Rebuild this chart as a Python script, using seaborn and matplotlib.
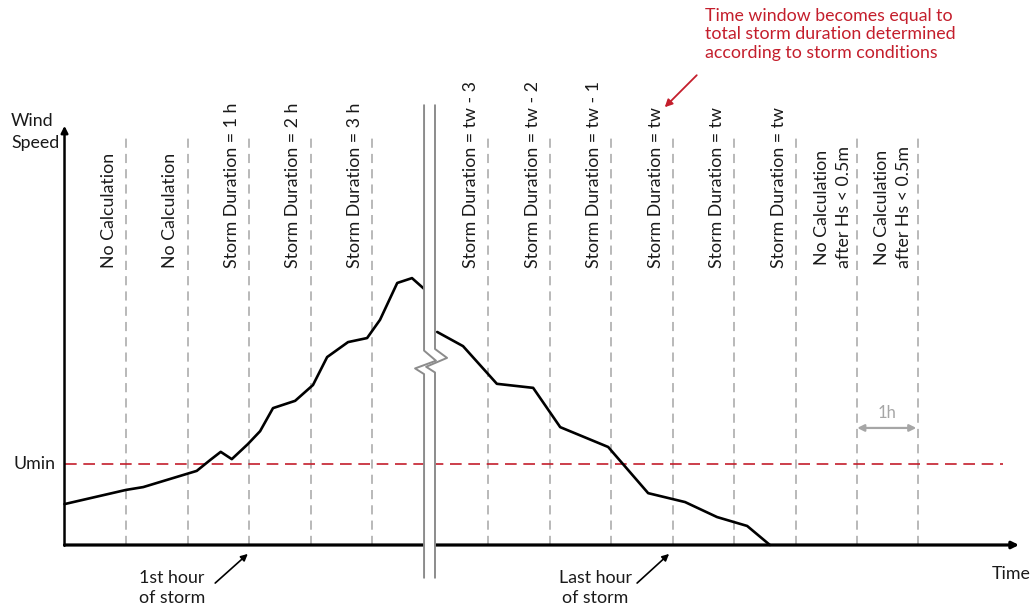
import matplotlib
matplotlib.use("Agg")
import matplotlib.pyplot as plt
import seaborn as sns
import pandas as pd

# wind speed curve, rising part (before the time-axis break)
rise_hours = [0.0, 1.0, 1.28, 2.15, 2.37, 2.54, 2.72, 2.98, 3.18, 3.39, 3.75, 4.04,
              4.27, 4.61, 4.92, 5.13, 5.41, 5.65, 5.85]
rise_speed = [1.01, 1.36, 1.43, 1.83, 2.10, 2.30, 2.12, 2.49, 2.81, 3.38, 3.56, 3.95,
              4.64, 5.01, 5.11, 5.56, 6.47, 6.59, 6.32]
# falling part (after the break)
fall_hours = [6.06, 6.48, 7.03, 7.62, 8.06, 8.84, 9.49, 10.09, 10.61, 11.10, 11.47]
fall_speed = [5.26, 4.91, 3.98, 3.88, 2.91, 2.42, 1.28, 1.06, 0.69, 0.47, 0.0]

umin = 2.0
hour_lines = [1, 2, 3, 4, 5, 6.89, 7.89, 8.89, 9.89, 10.89, 11.89, 12.89, 13.87]
hour_labels = ["No Calculation", "No Calculation",
               "Storm Duration = 1 h", "Storm Duration = 2 h", "Storm Duration = 3 h",
               "Storm Duration = tw - 3", "Storm Duration = tw - 2", "Storm Duration = tw - 1",
               "Storm Duration = tw", "Storm Duration = tw", "Storm Duration = tw",
               "No Calculation\nafter Hs < 0.5m", "No Calculation\nafter Hs < 0.5m"]

# axis break symbol (two gray lines with a zigzag)
brk_left_x = [5.846, 5.846, 6.04, 5.70, 5.846, 5.846]
brk_left_y = [10.86, 4.80, 4.55, 4.36, 4.22, -0.81]
brk_right_x = [6.024, 6.024, 6.22, 5.88, 6.024, 6.024]
brk_right_y = [10.86, 4.84, 4.62, 4.40, 4.26, -0.81]

note = "Time window becomes equal to\ntotal storm duration determined\naccording to storm conditions"

sns.set_theme(style="white")
plt.rcParams["font.family"] = ["Lato", "DejaVu Sans"]

fig = plt.figure(figsize=(10.35, 6.07), dpi=100)
ax = fig.add_axes([0, 0, 1, 1])
ax.set_xlim(-1.049, 15.78)
ax.set_ylim(-1.531, 13.457)
ax.axis("off")

gray = "#a6a6a6"
red = "#c41e2c"
ink = "#1a1a1a"

# vertical dashed hour lines and their labels
ax.vlines(hour_lines, 0, 10.17, colors=gray, linestyles=(0, (6, 4)), lw=1.1, zorder=1)
for xl, lab in zip(hour_lines, hour_labels):
    off = 0.40 if "\n" in lab else 0.28
    ax.text(xl - off, 6.84, lab, rotation=90, ha="center", va="bottom",
            fontsize=12.8, color=ink, linespacing=1.45)

# Umin threshold
ax.plot([0, 15.26], [umin, umin], color=red, lw=1.2, ls=(0, (7, 4)), zorder=1)
ax.text(-0.14, umin, "Umin", ha="right", va="center", fontsize=12.8, color=ink)

# wind speed curve
rise = pd.DataFrame({"hour": rise_hours, "speed": rise_speed})
fall = pd.DataFrame({"hour": fall_hours, "speed": fall_speed})
sns.lineplot(data=rise, x="hour", y="speed", ax=ax, color="black", lw=1.9,
             sort=False, estimator=None, zorder=3)
sns.lineplot(data=fall, x="hour", y="speed", ax=ax, color="black", lw=1.9,
             sort=False, estimator=None, zorder=3)

# axes with arrows
ax.annotate("", xy=(15.52, 0), xytext=(0, 0),
            arrowprops=dict(arrowstyle="-|>", color="black", lw=2.3,
                            mutation_scale=10, shrinkA=0, shrinkB=0), zorder=4)
ax.annotate("", xy=(0, 10.35), xytext=(0, -0.02),
            arrowprops=dict(arrowstyle="-|>", color="black", lw=1.8,
                            mutation_scale=10, shrinkA=0, shrinkB=0), zorder=4)
ax.text(-0.87, 10.2, "Wind\nSpeed", ha="left", va="center", fontsize=12.8,
        color=ink, linespacing=1.4)
ax.text(15.39, -0.72, "Time", ha="center", va="center", fontsize=12.8, color=ink)

# axis break: white gap with gray edges
ax.fill(brk_left_x + brk_right_x[::-1], brk_left_y + brk_right_y[::-1],
        color="white", zorder=5, lw=0)
ax.plot(brk_left_x, brk_left_y, color="#8c8c8c", lw=1.4, zorder=6)
ax.plot(brk_right_x, brk_right_y, color="#8c8c8c", lw=1.4, zorder=6)

# storm start / end notes
ax.text(1.75, -1.06, "1st hour\nof storm", ha="center", va="center", fontsize=12.8,
        color=ink, linespacing=1.25)
ax.annotate("", xy=(2.98, -0.22), xytext=(2.45, -0.94),
            arrowprops=dict(arrowstyle="-|>", color="black", lw=1.2,
                            mutation_scale=10, shrinkA=0, shrinkB=0))
ax.text(8.63, -1.06, "Last hour\nof storm", ha="center", va="center", fontsize=12.8,
        color=ink, linespacing=1.25)
ax.annotate("", xy=(9.83, -0.22), xytext=(9.31, -0.94),
            arrowprops=dict(arrowstyle="-|>", color="black", lw=1.2,
                            mutation_scale=10, shrinkA=0, shrinkB=0))

# 1 h spacing marker
ax.annotate("", xy=(13.85, 2.89), xytext=(12.89, 2.89),
            arrowprops=dict(arrowstyle="<|-|>", color=gray, lw=1.6,
                            mutation_scale=10, shrinkA=0, shrinkB=0))
ax.text(13.37, 3.27, "1h", ha="center", va="center", fontsize=12, color=gray)

# red note about the time window
ax.text(10.41, 13.27, note, ha="left", va="top", fontsize=12.8, color=red, linespacing=1.2)
ax.annotate("", xy=(9.76, 10.81), xytext=(10.28, 11.6),
            arrowprops=dict(arrowstyle="-|>", color=red, lw=1.3,
                            mutation_scale=11, shrinkA=0, shrinkB=0))

fig.savefig("out.png", dpi=100)
